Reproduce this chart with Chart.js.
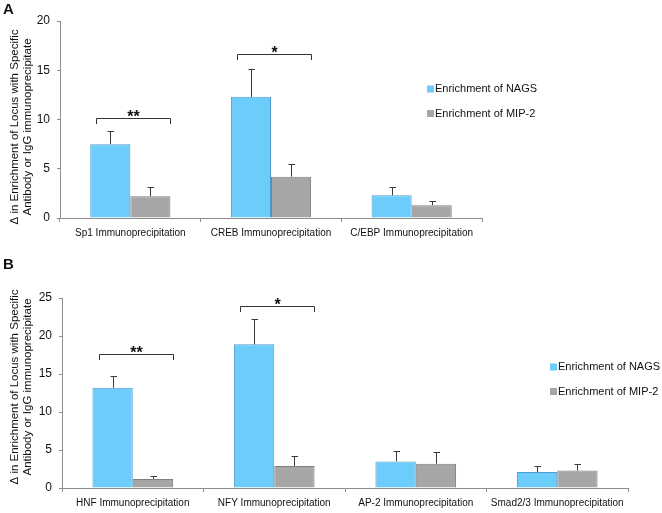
<!DOCTYPE html>
<html>
<head>
<meta charset="utf-8">
<script src="https://cdn.jsdelivr.net/npm/chart.js@4"></script>
<style>
  body { margin: 0; background: #fff; }
  .panel { position: relative; width: 662px; }
  canvas { display: block; }
</style>
</head>
<body>
<div class="panel"><canvas id="chartA" width="662" height="255"></canvas></div>
<div class="panel"><canvas id="chartB" width="662" height="258"></canvas></div>
<script>
const seriesLabels = ['Enrichment of NAGS', 'Enrichment of MIP-2'];
const yTitle = ['\u0394 in Enrichment of Locus with Specific', 'Antibody or IgG immunoprecipitate'];

// panel A
const catsA = ['Sp1 Immunoprecipitation', 'CREB Immunoprecipitation', 'C/EBP Immunoprecipitation'];
const nagsA = [7.5, 12.3, 2.3];
const nagsErrA = [1.3, 2.8, 0.8];
const mipA = [2.2, 4.2, 1.3];
const mipErrA = [0.9, 1.3, 0.4];
const sigA = [[0, 10.15, '**'], [1, 16.65, '*']];

// panel B
const catsB = ['HNF Immunoprecipitation', 'NFY Immunoprecipitation', 'AP-2 Immunoprecipitation', 'Smad2/3 Immunoprecipitation'];
const nagsB = [13.2, 18.9, 3.5, 2.1];
const nagsErrB = [1.5, 3.3, 1.4, 0.8];
const mipB = [1.2, 2.9, 3.2, 2.3];
const mipErrB = [0.4, 1.3, 1.5, 0.8];
const sigB = [[0, 17.6, '**'], [1, 23.9, '*']];

const FONT = '"Liberation Sans", Arial, sans-serif';
const BLUE = '#6cccfc', BLUE_EDGE = '#4f9cc6';
const GREY = '#a6a6a6', GREY_EDGE = '#7f7f7f';

const overlay = {
    id: 'overlay',
    afterDatasetsDraw(chart, args, opts) {
        const c = chart.ctx;
        const y = chart.scales.y;
        c.save();

        // error bars (upper only)
        c.strokeStyle = '#3a3a3a';
        c.lineWidth = 1;
        chart.data.datasets.forEach((ds, di) => {
            chart.getDatasetMeta(di).data.forEach((bar, i) => {
                const top = y.getPixelForValue(ds.data[i] + ds.errors[i]);
                const x = Math.round(bar.x) + 0.5;
                c.beginPath();
                c.moveTo(x, bar.y);
                c.lineTo(x, Math.round(top) + 0.5);
                c.moveTo(x - 3, Math.round(top) + 0.5);
                c.lineTo(x + 3.5, Math.round(top) + 0.5);
                c.stroke();
            });
        });

        // significance brackets
        c.strokeStyle = '#333';
        c.fillStyle = '#111';
        c.font = 'bold 16px ' + FONT;
        c.textAlign = 'center';
        c.textBaseline = 'alphabetic';
        opts.sig.forEach(([cat, level, mark]) => {
            const b0 = chart.getDatasetMeta(0).data[cat];
            const b1 = chart.getDatasetMeta(1).data[cat];
            const x0 = Math.round(b0.x - 14) + 0.5;
            const x1 = Math.round(b1.x + 20) + 0.5;
            const py = Math.round(y.getPixelForValue(level)) + 0.5;
            c.beginPath();
            c.moveTo(x0, py + 5.5);
            c.lineTo(x0, py);
            c.lineTo(x1, py);
            c.lineTo(x1, py + 5.5);
            c.stroke();
            c.fillText(mark, (x0 + x1) / 2, py + 3);
        });

        // legend
        c.font = '11px ' + FONT;
        c.textAlign = 'left';
        c.textBaseline = 'middle';
        chart.data.datasets.forEach((ds, di) => {
            const lx = opts.legendX, ly = opts.legendY + di * 24.5;
            c.fillStyle = ds.backgroundColor;
            c.fillRect(lx, ly - 3.5, 7, 7);
            c.fillStyle = '#111';
            c.fillText(ds.label, lx + 8, ly);
        });

        // y title
        c.font = '11.5px ' + FONT;
        c.textAlign = 'center';
        c.textBaseline = 'middle';
        c.fillStyle = '#111';
        yTitle.forEach((t, k) => {
            c.save();
            c.translate(15 + k * 13, opts.titleY);
            c.rotate(-Math.PI / 2);
            c.fillText(t, 0, 0);
            c.restore();
        });

        // panel letter
        c.font = 'bold 15px ' + FONT;
        c.textAlign = 'left';
        c.textBaseline = 'top';
        c.fillText(opts.letter, 3, 2);
        c.restore();
    }
};

function makePanel(id, cats, nags, nagsErr, mip, mipErr, sig, yMax, box) {
    return new Chart(document.getElementById(id), {
        type: 'bar',
        data: {
            labels: cats,
            datasets: [
                { label: seriesLabels[0], data: nags, errors: nagsErr, backgroundColor: BLUE, borderColor: BLUE_EDGE, borderWidth: 1 },
                { label: seriesLabels[1], data: mip, errors: mipErr, backgroundColor: GREY, borderColor: GREY_EDGE, borderWidth: 1 }
            ]
        },
        options: {
            responsive: false,
            animation: false,
            layout: { padding: { left: 0, right: box.right, top: box.top, bottom: 0 } },
            datasets: { bar: { categoryPercentage: 0.57, barPercentage: 1 } },
            plugins: {
                legend: { display: false },
                tooltip: { enabled: false },
                overlay: { sig: sig, legendX: box.legendX, legendY: box.legendY, letter: box.letter, titleY: box.titleY }
            },
            scales: {
                x: {
                    afterFit: s => { s.height = box.xh; },
                    border: { color: '#8c8c8c' },
                    grid: { display: true, drawOnChartArea: false, offset: true, tickLength: 4, color: '#8c8c8c' },
                    ticks: { color: '#111', font: { family: FONT, size: 10 }, padding: 5, maxRotation: 0 }
                },
                y: {
                    min: 0,
                    max: yMax,
                    afterFit: s => { s.width = box.left; },
                    border: { color: '#8c8c8c' },
                    grid: { display: true, drawOnChartArea: false, tickLength: 3, color: '#8c8c8c' },
                    ticks: { stepSize: 5, color: '#111', font: { family: FONT, size: 12 }, padding: 7 }
                }
            }
        },
        plugins: [overlay]
    });
}

makePanel('chartA', catsA, nagsA, nagsErrA, mipA, mipErrA, sigA, 20,
    { left: 60, right: 180, top: 21, xh: 37, legendX: 427, legendY: 89, letter: 'A', titleY: 127 });
makePanel('chartB', catsB, nagsB, nagsErrB, mipB, mipErrB, sigB, 25,
    { left: 62, right: 34, top: 43, xh: 25, legendX: 550, legendY: 112, letter: 'B', titleY: 132 });
</script>
</body>
</html>
